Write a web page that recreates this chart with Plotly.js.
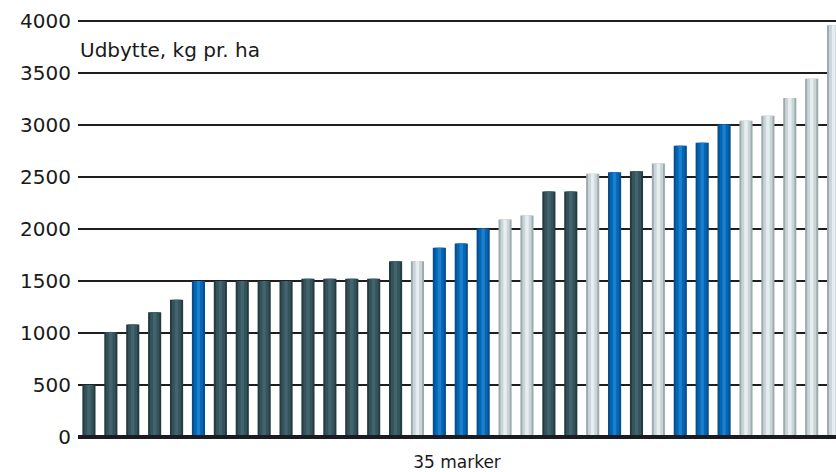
<!DOCTYPE html>
<html>
<head>
<meta charset="utf-8">
<script src="https://cdn.plot.ly/plotly-3.0.1.min.js"></script>
<style>html,body{margin:0;padding:0;background:#fff;}#chart{width:836px;height:472px;}</style>
</head>
<body>
<div id="chart"></div>
<script>
// Data
var fields = Array.from({length: 35}, function(_, i){ return i + 1; });
var yields = [500, 1010, 1080, 1200, 1320, 1500, 1500, 1500, 1500, 1500,
              1520, 1520, 1520, 1520, 1690, 1690, 1820, 1860, 2005, 2090,
              2130, 2360, 2360, 2530, 2545, 2555, 2630, 2800, 2830, 3005,
              3040, 3090, 3260, 3445, 3960];
var groups = ['d','d','d','d','d','b','d','d','d','d',
              'd','d','d','d','d','l','b','b','b','l',
              'l','d','d','l','b','d','l','b','b','b',
              'l','l','l','l','l'];
var yLabel = 'Udbytte, kg pr. ha';
var xLabel = '35 marker';
var tickVals = [0, 500, 1000, 1500, 2000, 2500, 3000, 3500, 4000];

var palette = {
  d: {edge: '#263b41', mid: '#34535b', hi: '#41646d'},
  b: {edge: '#0a4d8c', mid: '#0465b3', hi: '#1a7fcc'},
  l: {edge: '#9eabae', mid: '#c9d5d8', hi: '#e6eef0'}
};
function cols(k){ return groups.map(function(g){ return palette[g][k]; }); }

var layers = [
  {k: 'edge', w: 0.6},
  {k: 'mid', w: 0.42},
  {k: 'hi', w: 0.16}
];
var traces = layers.map(function(L){
  return {
    type: 'bar', x: fields, y: yields, width: L.w,
    marker: {color: cols(L.k), line: {width: 0}},
    hoverinfo: 'skip', showlegend: false
  };
});

var font = 'DejaVu Sans, sans-serif';
var layout = {
  width: 836, height: 472,
  margin: {l: 78, r: 0, t: 20, b: 32},
  paper_bgcolor: '#ffffff', plot_bgcolor: '#ffffff',
  barmode: 'overlay',
  showlegend: false,
  font: {family: font, color: '#1a1a1a', size: 17},
  xaxis: {
    range: [0.5, 35.11],
    showgrid: false, zeroline: false, showticklabels: false, ticks: '',
    showline: false,
    fixedrange: true,
    title: {text: xLabel, font: {size: 17, family: font, color: '#1a1a1a'}, standoff: 18}
  },
  yaxis: {
    range: [-30, 4010],
    tickvals: tickVals,
    ticktext: tickVals.map(String),
    showgrid: true, gridcolor: '#1e1e1e', gridwidth: 1.6,
    zeroline: false,
    showline: false, ticks: '',
    ticklabelstandoff: 6,
    tickfont: {size: 20, family: font, color: '#1a1a1a'},
    fixedrange: true
  },
  shapes: [{
    type: 'line', xref: 'paper', yref: 'y', x0: 0, x1: 1, y0: 0, y1: 0,
    line: {color: '#1b1b22', width: 4}, layer: 'above'
  }],
  annotations: [{
    text: yLabel, xref: 'paper', yref: 'y', x: 0, y: 3720,
    xanchor: 'left', yanchor: 'middle', showarrow: false,
    font: {size: 20, family: font, color: '#1a1a1a'}
  }]
};

Plotly.newPlot('chart', traces, layout, {displayModeBar: false, staticPlot: true});
</script>
</body>
</html>
